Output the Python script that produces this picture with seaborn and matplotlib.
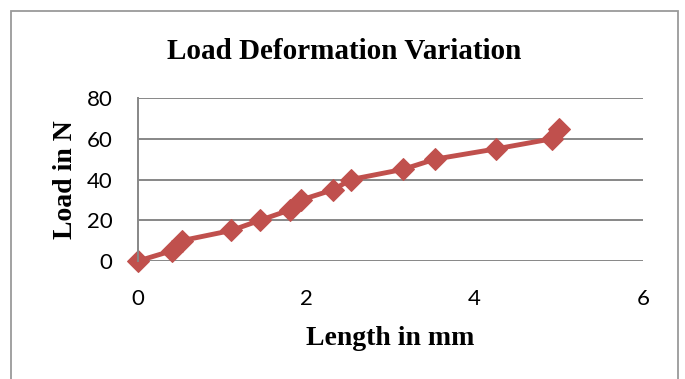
import matplotlib
matplotlib.use("Agg")
import matplotlib.pyplot as plt
import seaborn as sns
import pandas as pd
from matplotlib.patches import Rectangle

# Load vs. deformation readings
length_mm = [0.0, 0.40, 0.52, 1.11, 1.45, 1.80, 1.94, 2.32, 2.53, 3.15, 3.53, 4.25, 4.92, 5.00]
load_n = [0, 5, 10, 15, 20, 25, 30, 35, 40, 45, 50, 55, 60, 65]

x_ticks = [0, 2, 4, 6]
y_ticks = [0, 20, 40, 60, 80]

df = pd.DataFrame({"Length in mm": length_mm, "Load in N": load_n})

sns.set_theme(style="white")
plt.rcParams["font.family"] = ["Lato", "DejaVu Sans"]
plt.rcParams["text.color"] = "black"
plt.rcParams["axes.labelcolor"] = "black"

fig = plt.figure(figsize=(6.85, 3.79), dpi=100)
ax = fig.add_axes([0.2015, 0.3113, 0.7372, 0.4301])

sns.lineplot(data=df, x="Length in mm", y="Load in N", ax=ax, sort=False,
             color="#C0504D", linewidth=3.5, marker="D", markersize=11,
             markeredgecolor="#C0504D", markerfacecolor="#C0504D", clip_on=False)

ax.set_xlim(0, 6)
ax.set_ylim(0, 80)
ax.set_xticks(x_ticks)
ax.set_yticks(y_ticks)
ax.tick_params(axis="both", length=0, labelsize=16, colors="black")
ax.tick_params(axis="x", pad=20)
ax.tick_params(axis="y", pad=18.5)

ax.yaxis.grid(True, color="#878787", linewidth=1.4)
ax.set_axisbelow(True)
for s in ["top", "right", "bottom"]:
    ax.spines[s].set_visible(False)
ax.spines["left"].set_color("#878787")
ax.spines["left"].set_linewidth(1.4)

label_font = dict(family="Liberation Serif", weight="bold", size=20)
ax.set_xlabel("Length in mm", **label_font)
ax.set_ylabel("Load in N", **label_font)
ax.xaxis.set_label_coords(0.5, -0.40)
ax.yaxis.set_label_coords(-0.119, 0.5)

fig.text(0.502, 0.8435, "Load Deformation Variation", ha="center", va="baseline",
         family="Liberation Serif", weight="bold", size=21)

# outer chart frame
fig.patches.append(Rectangle((11 / 685, -0.01), 667 / 685, 1 - 11 / 379 + 0.01,
                             transform=fig.transFigure, fill=False,
                             edgecolor="#9a9a9a", linewidth=1.3))

fig.savefig("out.png", dpi=100, facecolor="white")
